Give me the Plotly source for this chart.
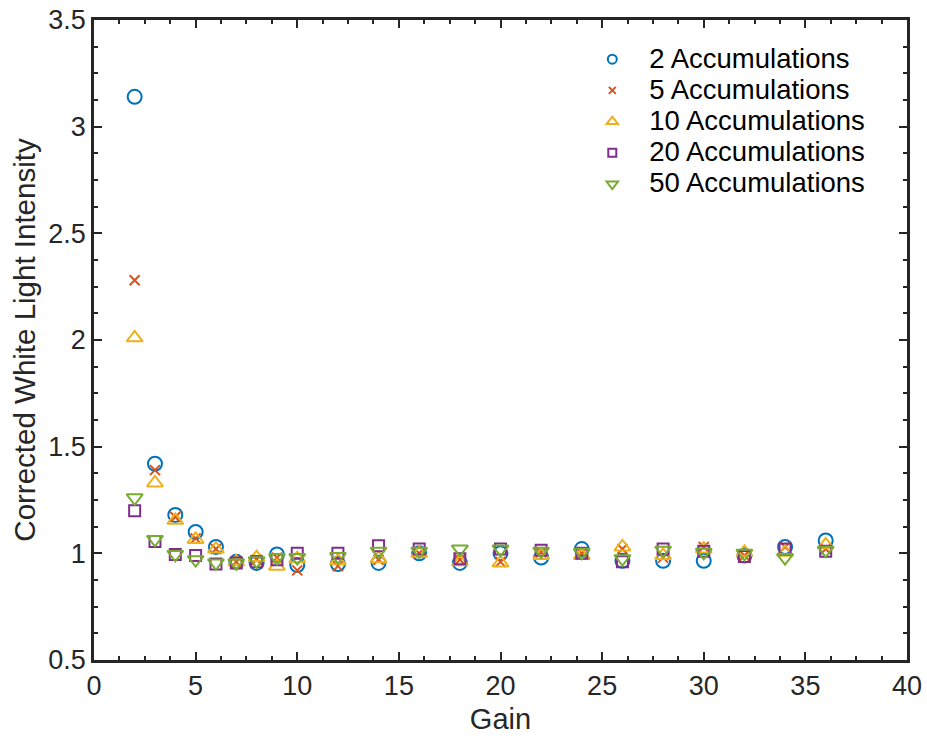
import plotly.graph_objects as go

# Gain settings and corrected white-light intensity per accumulation count
gain = [2, 3, 4, 5, 6, 7, 8, 9, 10, 12, 14, 16, 18, 20, 22, 24, 26, 28, 30, 32, 34, 36]

acc_2 = [3.14, 1.42, 1.18, 1.10, 1.03, 0.96, 0.955, 0.995, 0.945, 0.95, 0.955,
         1.00, 0.955, 1.00, 0.98, 1.02, 0.965, 0.965, 0.965, 0.99, 1.03, 1.06]
acc_5 = [2.28, 1.39, 1.17, 1.07, 1.02, 0.96, 0.97, 0.98, 0.92, 0.94, 0.97,
         1.00, 0.97, 0.96, 1.005, 1.00, 1.02, 0.98, 1.03, 0.99, 1.03, 1.02]
acc_10 = [2.01, 1.33, 1.155, 1.065, 1.02, 0.96, 0.98, 0.94, 0.975, 0.965, 0.975,
          1.00, 0.96, 0.955, 0.99, 0.99, 1.03, 0.99, 1.02, 1.005, 1.005, 1.04]
acc_20 = [1.20, 1.055, 0.995, 0.99, 0.95, 0.955, 0.96, 0.97, 1.00, 1.00, 1.035,
          1.02, 0.975, 1.02, 1.015, 1.00, 0.96, 1.02, 1.01, 0.985, 1.02, 1.01]
acc_50 = [1.26, 1.065, 0.995, 0.97, 0.955, 0.955, 0.965, 0.98, 0.98, 0.985, 1.01,
          1.01, 1.02, 1.02, 1.01, 1.005, 0.975, 1.015, 1.005, 1.00, 0.98, 1.015]

series_names = ["2 Accumulations", "5 Accumulations", "10 Accumulations",
                "20 Accumulations", "50 Accumulations"]
series_values = [acc_2, acc_5, acc_10, acc_20, acc_50]
colors = ["#0072BD", "#D95319", "#EDB120", "#7E2F8E", "#77AC30"]
symbols = ["circle-open", "x-thin-open", "triangle-up-open", "square-open", "triangle-down-open"]
sizes = [14, 10, 14, 11, 14]
legend_sizes = [9, 7, 10, 8, 10]

AX = "#262626"
FONT = "Liberation Sans, Arial, Helvetica, sans-serif"

fig = go.Figure()
for i, (name, vals, col, sym, sz) in enumerate(zip(series_names, series_values, colors, symbols, sizes)):
    grp = f"g{i}"
    # scatter markers for the series
    fig.add_trace(go.Scatter(
        x=gain, y=vals, mode="markers", name=name, legendgroup=grp, showlegend=False,
        marker=dict(symbol=sym, size=sz, color=col, line=dict(color=col, width=2)),
    ))
    # compact legend key for the series (same group, smaller symbol)
    fig.add_trace(go.Scatter(
        x=[None], y=[None], mode="markers", legendgroup=grp, showlegend=True,
        name=f'<span style="font-size:27.5px">{name}</span>', hoverinfo="skip",
        marker=dict(symbol=sym, size=legend_sizes[i], color=col, line=dict(color=col, width=2)),
    ))

axis_common = dict(
    showline=True, linecolor=AX, linewidth=2.5, mirror="ticks",
    ticks="inside", ticklen=8, tickwidth=2, tickcolor=AX,
    showgrid=False, zeroline=False, automargin=False,
    tickfont=dict(family=FONT, size=27, color=AX),
)

fig.update_xaxes(
    range=[0, 40], dtick=5, tick0=0,
    minor=dict(dtick=1.25, ticks="inside", ticklen=4, tickwidth=2, tickcolor=AX, showgrid=False),
    title=dict(text="Gain", font=dict(family=FONT, size=29, color=AX), standoff=9),
    **axis_common,
)
fig.update_yaxes(
    range=[0.5, 3.5], dtick=0.5, tick0=0.5,
    minor=dict(dtick=0.125, ticks="inside", ticklen=4, tickwidth=2, tickcolor=AX, showgrid=False),
    title=dict(text="Corrected White Light Intensity", font=dict(family=FONT, size=29.5, color=AX), standoff=4),
    **axis_common,
)

fig.update_layout(
    width=927, height=738,
    margin=dict(l=94, r=20, t=19.5, b=78),
    paper_bgcolor="white", plot_bgcolor="white",
    font=dict(family=FONT, color="black"),
    legend=dict(
        x=0.592, y=0.971, xanchor="left", yanchor="top",
        bgcolor="rgba(0,0,0,0)", borderwidth=0,
        font=dict(family=FONT, size=21.7, color="black"),
        itemwidth=64, tracegroupgap=0,
    ),
)

fig.write_html("out.html")
